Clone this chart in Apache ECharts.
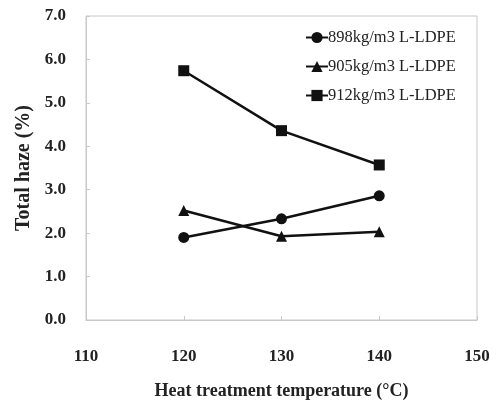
<!DOCTYPE html>
<html>
<head>
<meta charset="utf-8">
<script src="https://cdn.jsdelivr.net/npm/echarts@6/dist/echarts.min.js"></script>
<style>
  html, body { margin: 0; padding: 0; background: #fff; }
  #chart { width: 502px; height: 407px; }
</style>
</head>
<body>
<div id="chart"></div>
<script>
  // temperatures (°C)
  var temps = [120, 130, 140];
  // total haze (%)
  var haze898 = [1.90, 2.33, 2.86];
  var haze905 = [2.52, 1.93, 2.03];
  var haze912 = [5.74, 4.36, 3.57];
  var seriesNames = ['898kg/m3 L-LDPE', '905kg/m3 L-LDPE', '912kg/m3 L-LDPE'];

  var font = 'Liberation Serif';

  function pairs(ys) {
    return temps.map(function (t, i) { return [t, ys[i]]; });
  }

  function makeSeries(name, ys, symbol, size) {
    return {
      name: name,
      type: 'line',
      data: pairs(ys),
      symbol: symbol,
      symbolSize: size,
      lineStyle: { color: '#111', width: 2.5 },
      itemStyle: { color: '#111' },
      animation: false
    };
  }

  var chart = echarts.init(document.getElementById('chart'));
  chart.setOption({
    backgroundColor: '#fff',
    grid: {
      left: 86, right: 25, top: 16, bottom: 87,
      show: true, borderColor: '#c8c8c8', borderWidth: 1
    },
    legend: {
      orient: 'vertical',
      left: 300, top: 24,
      itemWidth: 22, itemHeight: 14, itemGap: 12,
      textStyle: { fontFamily: font, fontSize: 16.5, color: '#222', padding: [0, 0, 0, -5] },
      data: seriesNames
    },
    xAxis: {
      type: 'value',
      min: 110, max: 150, interval: 10,
      name: 'Heat treatment temperature (\u00b0C)',
      nameLocation: 'middle', nameGap: 62,
      nameTextStyle: { fontFamily: font, fontSize: 18, fontWeight: 'bold', color: '#222' },
      axisLine: { lineStyle: { color: '#c8c8c8' } },
      axisTick: { inside: true, length: 4, lineStyle: { color: '#c8c8c8' } },
      axisLabel: { margin: 28, fontFamily: font, fontSize: 17, fontWeight: 'bold', color: '#222' },
      splitLine: { show: false }
    },
    yAxis: {
      type: 'value',
      min: 0, max: 7, interval: 1,
      name: 'Total haze (%)',
      nameLocation: 'middle', nameGap: 52,
      nameTextStyle: { fontFamily: font, fontSize: 20, fontWeight: 'bold', color: '#222' },
      axisLine: { show: true, lineStyle: { color: '#c8c8c8' } },
      axisTick: { show: true, inside: true, length: 4, lineStyle: { color: '#c8c8c8' } },
      axisLabel: {
        margin: 20, fontFamily: font, fontSize: 17, fontWeight: 'bold', color: '#222',
        formatter: function (v) { return v.toFixed(1); }
      },
      splitLine: { show: false }
    },
    series: [
      makeSeries(seriesNames[0], haze898, 'circle', 11),
      makeSeries(seriesNames[1], haze905, 'triangle', 11),
      makeSeries(seriesNames[2], haze912, 'rect', 11)
    ]
  });
</script>
</body>
</html>
